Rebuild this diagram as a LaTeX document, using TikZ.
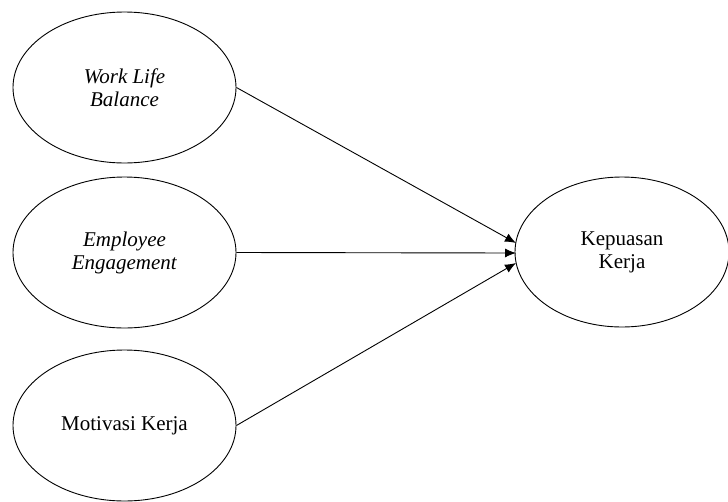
\documentclass[tikz,border=0pt]{standalone}
\usepackage{fontspec}
\setmainfont{Liberation Serif}
\usetikzlibrary{shapes.geometric,arrows.meta}
\begin{document}
\begin{tikzpicture}[x=1pt,y=-1pt,
  var/.style={draw, ellipse, line width=0.9pt, inner sep=0pt, minimum width=223pt, minimum height=151pt, align=center, font=\fontsize{21}{26}\selectfont},
  conn/.style={line width=0.9pt, -{Latex[length=11pt,width=9pt]}}]
\useasboundingbox (0,0) rectangle (728,501);
\node[var] (wlb) at (124.5,87.5) {\textit{Work Life}\\[-3pt]\textit{Balance}};
\node[var] (ee) at (124.5,252.5) {\textit{Employee}\\[-3pt]\textit{Engagement}};
\node[var] (mk) at (124.5,425.5) {Motivasi Kerja};
\node[var, minimum width=214pt, minimum height=150pt] (kp) at (622,252) {Kepuasan\\[-3pt]Kerja};
\coordinate (t1) at (516,243);
\coordinate (t2) at (516,253);
\coordinate (t3) at (516,263);
\draw[conn] (wlb.east) -- (t1);
\draw[conn] (ee.east) -- (t2);
\draw[conn] (mk.east) -- (t3);
\end{tikzpicture}
\end{document}
